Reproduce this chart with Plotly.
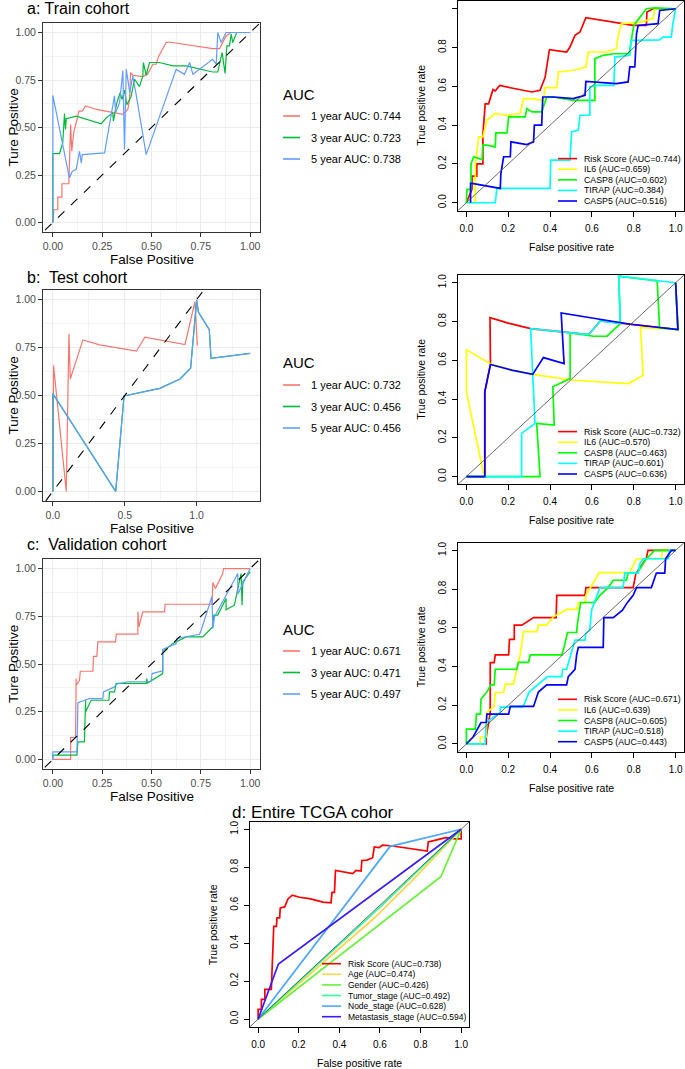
import plotly.graph_objects as go

W, H = 685, 1069
FONT = "Liberation Sans, Arial, sans-serif"

# ---------------- data ----------------
# a: train cohort, time-dependent ROC (left)
TRAIN_1Y_X = [0.0, 0.005, 0.025, 0.025, 0.046, 0.046, 0.081, 0.084, 0.09, 0.096, 0.105, 0.118, 0.132, 0.149, 0.166, 0.22, 0.304, 0.355, 0.38, 0.389, 0.394, 0.405, 0.456, 0.48, 0.507, 0.524, 0.537, 0.557, 0.574, 0.59, 0.81, 0.845, 0.86, 0.878, 0.904, 1.0]
TRAIN_1Y_Y = [0.0, 0.067, 0.067, 0.134, 0.134, 0.204, 0.204, 0.375, 0.516, 0.375, 0.47, 0.525, 0.586, 0.586, 0.613, 0.595, 0.577, 0.569, 0.595, 0.648, 0.789, 0.775, 0.768, 0.78, 0.833, 0.833, 0.877, 0.912, 0.947, 0.95, 0.915, 0.915, 0.947, 0.982, 1.0, 1.0]
TRAIN_3Y_X = [0.0, 0.0, 0.034, 0.05, 0.059, 0.064, 0.068, 0.118, 0.245, 0.27, 0.304, 0.307, 0.324, 0.341, 0.351, 0.363, 0.375, 0.397, 0.414, 0.439, 0.456, 0.459, 0.473, 0.49, 0.54, 0.608, 0.676, 0.81, 0.836, 0.858, 0.873, 0.882, 0.895, 0.904, 0.912, 0.932, 1.0]
TRAIN_3Y_Y = [0.0, 0.363, 0.363, 0.419, 0.574, 0.49, 0.546, 0.56, 0.52, 0.55, 0.577, 0.533, 0.63, 0.683, 0.648, 0.697, 0.62, 0.665, 0.754, 0.715, 0.771, 0.842, 0.775, 0.842, 0.842, 0.824, 0.824, 0.792, 0.792, 0.894, 0.785, 0.93, 0.93, 0.991, 0.947, 1.0, 1.0]
TRAIN_5Y_X = [0.0, 0.0, 0.084, 0.098, 0.118, 0.135, 0.144, 0.149, 0.262, 0.3125, 0.318, 0.338, 0.355, 0.363, 0.372, 0.39, 0.405, 0.422, 0.473, 0.625, 0.667, 0.693, 0.71, 0.81, 0.828, 0.836, 0.853, 0.878, 1.0]
TRAIN_5Y_Y = [0.0, 0.669, 0.234, 0.27, 0.278, 0.375, 0.313, 0.357, 0.366, 0.666, 0.577, 0.63, 0.8, 0.384, 0.806, 0.683, 0.771, 0.674, 0.357, 0.806, 0.78, 0.842, 0.78, 0.859, 0.833, 1.0, 0.947, 1.0, 1.0]
TRAIN_AUC = ["0.744", "0.723", "0.738"]

# a: train cohort, marker ROC (right)
TR_RISK_X = [0.0, 0.027, 0.027, 0.05, 0.05, 0.079, 0.079, 0.09, 0.106, 0.127, 0.138, 0.159, 0.21, 0.313, 0.352, 0.376, 0.397, 0.479, 0.495, 0.519, 0.543, 0.571, 0.797, 0.86, 0.863, 0.892, 1.0]
TR_RISK_Y = [0.0, 0.07, 0.137, 0.137, 0.2, 0.2, 0.35, 0.51, 0.51, 0.583, 0.576, 0.605, 0.593, 0.571, 0.58, 0.645, 0.789, 0.777, 0.803, 0.863, 0.88, 0.954, 0.914, 0.914, 0.983, 1.0, 1.0]
TR_IL6_X = [0.0, 0.043, 0.043, 0.059, 0.079, 0.098, 0.138, 0.194, 0.257, 0.273, 0.305, 0.368, 0.376, 0.432, 0.44, 0.511, 0.571, 0.583, 0.67, 0.717, 0.725, 0.741, 0.829, 0.892, 0.9, 1.0]
TR_IL6_Y = [0.0, 0.0, 0.2, 0.34, 0.34, 0.425, 0.46, 0.451, 0.46, 0.537, 0.537, 0.528, 0.593, 0.593, 0.674, 0.683, 0.7, 0.777, 0.777, 0.794, 0.858, 0.923, 0.93, 0.949, 1.0, 1.0]
TR_CASP8_X = [0.0, 0.003, 0.022, 0.022, 0.035, 0.075, 0.079, 0.098, 0.138, 0.141, 0.194, 0.202, 0.281, 0.289, 0.313, 0.36, 0.384, 0.416, 0.511, 0.614, 0.614, 0.654, 0.702, 0.778, 0.8, 0.86, 0.9, 1.0]
TR_CASP8_Y = [0.0, 0.069, 0.069, 0.2, 0.237, 0.223, 0.297, 0.297, 0.288, 0.36, 0.36, 0.443, 0.443, 0.485, 0.468, 0.468, 0.545, 0.545, 0.528, 0.528, 0.743, 0.76, 0.768, 0.768, 0.914, 1.0, 1.005, 1.0]
TR_TIRAP_X = [0.0, 0.138, 0.146, 0.4, 0.403, 0.495, 0.503, 0.535, 0.543, 0.59, 0.59, 0.622, 0.705, 0.71, 0.781, 0.789, 0.813, 0.924, 0.94, 0.979, 0.987, 1.0]
TR_TIRAP_Y = [0.0, 0.0, 0.074, 0.074, 0.22, 0.22, 0.365, 0.374, 0.451, 0.451, 0.597, 0.605, 0.605, 0.751, 0.76, 0.837, 0.837, 0.84, 0.854, 0.854, 0.923, 1.0]
TR_CASP5_X = [0.02, 0.02, 0.027, 0.146, 0.162, 0.165, 0.178, 0.21, 0.213, 0.289, 0.321, 0.325, 0.36, 0.365, 0.416, 0.511, 0.567, 0.571, 0.717, 0.773, 0.781, 0.805, 0.813, 0.821, 0.916, 0.924, 1.0]
TR_CASP5_Y = [0.0, 0.1, 0.1, 0.074, 0.074, 0.151, 0.237, 0.237, 0.314, 0.3, 0.314, 0.4, 0.4, 0.545, 0.545, 0.537, 0.554, 0.626, 0.614, 0.623, 0.7, 0.7, 0.871, 0.914, 0.923, 0.991, 1.0]
TR_AUC = ["0.744", "0.659", "0.602", "0.384", "0.516"]

# b: test cohort (left)
TEST_1Y_X = [0.0, 0.005, 0.093, 0.112, 0.121, 0.209, 0.326, 0.581, 0.64, 0.919, 0.988, 1.005]
TEST_1Y_Y = [0.0, 0.656, 0.0, 0.822, 0.586, 0.79, 0.764, 0.731, 0.804, 0.766, 0.988, 0.76]
TEST_3Y_X = [0.0, 0.0, 0.437, 0.495, 0.744, 0.884, 0.958, 1.0, 1.012, 1.088, 1.1, 1.372]
TEST_3Y_Y = [0.0, 0.51, 0.0, 0.498, 0.537, 0.586, 0.642, 0.997, 0.935, 0.843, 0.694, 0.72]
TEST_5Y_X = [0.0, 0.0, 0.437, 0.495, 0.744, 0.884, 0.958, 1.0, 1.012, 1.088, 1.1, 1.372]
TEST_5Y_Y = [0.0, 0.51, 0.0, 0.498, 0.537, 0.586, 0.642, 0.997, 0.935, 0.843, 0.694, 0.72]
TEST_AUC = ["0.732", "0.456", "0.456"]

# b: test cohort (right)
TE_RISK_X = [0.0, 0.088, 0.088, 0.115, 0.113, 0.2, 0.307, 0.584, 0.64, 0.784, 1.011, 1.0]
TE_RISK_Y = [0.0, 0.0, 0.437, 0.578, 0.82, 0.792, 0.763, 0.732, 0.803, 0.786, 0.758, 1.0]
TE_IL6_X = [0.088, 0.08, 0.0, 0.0, 0.112, 0.216, 0.317, 0.416, 0.512, 0.776, 0.845, 0.832, 1.011, 1.0]
TE_IL6_Y = [0.0, 0.026, 0.437, 0.655, 0.583, 0.549, 0.527, 0.511, 0.497, 0.48, 0.523, 0.77, 0.758, 1.0]
TE_CASP8_X = [0.0, 0.352, 0.336, 0.42, 0.413, 0.496, 0.496, 0.608, 0.672, 0.736, 0.728, 0.912, 0.923, 1.011, 1.0]
TE_CASP8_Y = [0.0, 0.0, 0.274, 0.266, 0.463, 0.506, 0.741, 0.724, 0.724, 0.789, 1.034, 1.01, 0.768, 0.758, 1.0]
TE_TIRAP_X = [0.0, 0.264, 0.264, 0.328, 0.307, 0.584, 0.64, 0.736, 0.728, 1.0]
TE_TIRAP_Y = [0.0, 0.0, 0.223, 0.274, 0.763, 0.732, 0.803, 0.789, 1.034, 1.0]
TE_CASP5_X = [0.0, 0.088, 0.088, 0.115, 0.216, 0.317, 0.368, 0.467, 0.453, 0.784, 1.011, 1.0]
TE_CASP5_Y = [0.0, 0.0, 0.437, 0.578, 0.549, 0.527, 0.614, 0.583, 0.844, 0.786, 0.758, 1.0]
TE_AUC = ["0.732", "0.570", "0.463", "0.601", "0.636"]

# c: validation cohort (left)
VALID_1Y_X = [0.0, 0.09, 0.09, 0.115, 0.118, 0.118, 0.135, 0.139, 0.203, 0.206, 0.223, 0.228, 0.318, 0.321, 0.431, 0.431, 0.436, 0.456, 0.566, 0.569, 0.807, 0.811, 0.824, 0.861, 0.865, 1.0]
VALID_1Y_Y = [0.0, 0.0, 0.115, 0.115, 0.424, 0.389, 0.415, 0.462, 0.462, 0.54, 0.54, 0.616, 0.616, 0.656, 0.656, 0.773, 0.695, 0.773, 0.773, 0.813, 0.813, 0.927, 0.895, 0.974, 1.0, 1.0]
VALID_3Y_X = [0.0, 0.0, 0.122, 0.127, 0.16, 0.166, 0.166, 0.194, 0.284, 0.287, 0.3125, 0.321, 0.473, 0.476, 0.48, 0.557, 0.557, 0.608, 0.642, 0.676, 0.76, 0.811, 0.816, 0.836, 0.878, 0.878, 0.887, 0.92, 0.954, 0.959, 0.963, 1.0]
VALID_3Y_Y = [0.0, 0.023, 0.023, 0.092, 0.092, 0.31, 0.25, 0.31, 0.31, 0.354, 0.354, 0.398, 0.398, 0.424, 0.4, 0.45, 0.564, 0.607, 0.625, 0.642, 0.642, 0.695, 0.756, 0.756, 0.843, 0.782, 0.79, 0.808, 0.974, 0.808, 0.93, 0.983]
VALID_5Y_X = [0.0, 0.0, 0.122, 0.127, 0.186, 0.253, 0.257, 0.3125, 0.321, 0.38, 0.498, 0.503, 0.557, 0.557, 0.625, 0.628, 0.743, 0.752, 0.806, 0.811, 0.819, 0.9375, 0.9375, 1.0]
VALID_5Y_Y = [0.0, 0.04, 0.04, 0.297, 0.319, 0.319, 0.354, 0.38, 0.394, 0.407, 0.407, 0.45, 0.464, 0.576, 0.607, 0.634, 0.656, 0.677, 0.852, 0.686, 0.747, 0.974, 0.866, 1.0]
VALID_AUC = ["0.671", "0.471", "0.497"]

# c: validation cohort (right)
VA_RISK_X = [0.0, 0.095, 0.095, 0.114, 0.114, 0.133, 0.138, 0.202, 0.206, 0.229, 0.229, 0.265, 0.321, 0.429, 0.432, 0.567, 0.571, 0.797, 0.81, 0.86, 0.868, 1.0]
VA_RISK_Y = [0.0, 0.0, 0.036, 0.163, 0.42, 0.42, 0.46, 0.46, 0.54, 0.54, 0.614, 0.614, 0.653, 0.653, 0.768, 0.768, 0.808, 0.808, 0.88, 0.96, 1.0, 1.0]
VA_IL6_X = [0.0, 0.067, 0.067, 0.095, 0.098, 0.133, 0.138, 0.178, 0.186, 0.225, 0.233, 0.257, 0.273, 0.337, 0.344, 0.384, 0.416, 0.479, 0.527, 0.535, 0.567, 0.571, 0.635, 0.78, 0.813, 0.932, 0.937, 1.0]
VA_IL6_Y = [0.0, 0.0, 0.036, 0.036, 0.163, 0.194, 0.266, 0.266, 0.309, 0.309, 0.348, 0.46, 0.58, 0.58, 0.614, 0.614, 0.657, 0.695, 0.695, 0.729, 0.729, 0.768, 0.885, 0.885, 0.957, 0.957, 1.0, 1.0]
VA_CASP8_X = [0.0, 0.0, 0.043, 0.048, 0.067, 0.07, 0.098, 0.117, 0.133, 0.138, 0.241, 0.249, 0.297, 0.305, 0.456, 0.467, 0.483, 0.527, 0.53, 0.546, 0.614, 0.638, 0.678, 0.702, 0.765, 0.773, 0.816, 0.86, 0.9, 1.0]
VA_CASP8_Y = [0.0, 0.077, 0.077, 0.154, 0.154, 0.232, 0.268, 0.305, 0.305, 0.386, 0.386, 0.422, 0.422, 0.46, 0.46, 0.499, 0.576, 0.576, 0.614, 0.731, 0.731, 0.768, 0.808, 0.846, 0.846, 0.883, 0.883, 0.957, 1.0, 1.0]
VA_TIRAP_X = [0.0, 0.09, 0.094, 0.162, 0.162, 0.27, 0.3, 0.387, 0.456, 0.46, 0.479, 0.519, 0.567, 0.571, 0.59, 0.598, 0.638, 0.749, 0.757, 0.821, 0.829, 0.844, 0.965, 0.971, 1.0]
VA_TIRAP_Y = [0.0, 0.0, 0.111, 0.163, 0.19, 0.19, 0.268, 0.348, 0.348, 0.386, 0.386, 0.537, 0.537, 0.571, 0.588, 0.691, 0.808, 0.808, 0.883, 0.883, 0.931, 0.957, 0.957, 1.0, 1.0]
VA_CASP5_X = [0.0, 0.032, 0.07, 0.095, 0.098, 0.202, 0.21, 0.321, 0.344, 0.384, 0.479, 0.487, 0.519, 0.527, 0.535, 0.654, 0.657, 0.702, 0.746, 0.768, 0.797, 0.813, 0.884, 0.908, 0.948, 0.952, 0.979, 1.0]
VA_CASP5_Y = [0.0, 0.036, 0.111, 0.111, 0.154, 0.154, 0.194, 0.194, 0.268, 0.305, 0.305, 0.348, 0.386, 0.46, 0.499, 0.499, 0.653, 0.653, 0.691, 0.729, 0.768, 0.808, 0.808, 0.883, 0.883, 0.957, 1.0, 1.0]
VA_AUC = ["0.671", "0.639", "0.605", "0.518", "0.443"]

# d: entire TCGA cohort
TC_RISK_X = [0.0, 0.0, 0.016, 0.016, 0.033, 0.033, 0.065, 0.07, 0.077, 0.09, 0.093, 0.106, 0.109, 0.131, 0.147, 0.168, 0.204, 0.253, 0.319, 0.359, 0.364, 0.376, 0.381, 0.466, 0.482, 0.507, 0.511, 0.536, 0.564, 0.572, 0.596, 0.613, 0.662, 0.833, 0.838, 0.89, 0.923, 0.97, 1.0, 1.0]
TC_RISK_Y = [0.0, 0.051, 0.051, 0.104, 0.104, 0.157, 0.157, 0.295, 0.489, 0.489, 0.533, 0.533, 0.586, 0.591, 0.633, 0.653, 0.642, 0.635, 0.616, 0.612, 0.668, 0.668, 0.783, 0.767, 0.783, 0.78, 0.836, 0.838, 0.85, 0.907, 0.903, 0.917, 0.912, 0.885, 0.933, 0.947, 0.956, 0.95, 0.95, 1.0]
TC_AGE_X = [0.0, 0.57, 0.75, 1.0]
TC_AGE_Y = [0.0, 0.53, 0.72, 1.0]
TC_GENDER_X = [0.0, 0.9, 1.0]
TC_GENDER_Y = [0.0, 0.75, 1.0]
TC_TUMOR_X = [0.0, 0.6, 1.0]
TC_TUMOR_Y = [0.0, 0.59, 1.0]
TC_NODE_X = [0.0, 0.65, 1.0]
TC_NODE_Y = [0.0, 0.91, 1.0]
TC_META_X = [0.0, 0.1, 1.0]
TC_META_Y = [0.0, 0.29, 1.0]
TC_AUC = ["0.738", "0.474", "0.426", "0.492", "0.628", "0.594"]

YEARS = ["1 year", "3 year", "5 year"]
MARKERS = ["Risk Score", "IL6", "CASP8", "TIRAP", "CASP5"]
CLINICAL = ["Risk Score", "Age", "Gender", "Tumor_stage", "Node_stage", "Metastasis_stage"]
DIAG = [-0.5, 2.0]  # y = x reference line, clipped by the axes

GG_COLORS = ["#F8766D", "#00BA38", "#619CFF"]
MK_COLORS = ["#FF0000", "#FFFF00", "#00FF00", "#00FFFF", "#0000FF"]
CL_COLORS = ["#FF0000", "#FFD54A", "#66F233", "#33FF99", "#4DA6FF", "#3A1AFF"]


def px(x):
    return x / W


def py(y):
    return 1 - y / H


fig = go.Figure()
annotations = []
shapes = []


def ax_name(i, kind):
    return kind + ("axis" if i == 1 else "axis%d" % i)


def ref(i, kind):
    return kind + ("" if i == 1 else str(i))


def add_line(i, x, y, color, width, dash=None):
    fig.add_trace(go.Scatter(
        x=x, y=y, mode="lines", xaxis=ref(i, "x"), yaxis=ref(i, "y"),
        line=dict(color=color, width=width, dash=dash),
        showlegend=False, hoverinfo="skip"
    ))


def text(x, y, s, size, xanchor="left", angle=0, color="black"):
    annotations.append(dict(
        x=px(x), y=py(y), xref="paper", yref="paper", text=s, showarrow=False,
        xanchor=xanchor, yanchor="middle", textangle=angle,
        font=dict(family=FONT, size=size, color=color)
    ))


def legend_line(x0, x1, y, color, width):
    shapes.append(dict(type="line", xref="paper", yref="paper",
                       x0=px(x0), x1=px(x1), y0=py(y), y1=py(y),
                       line=dict(color=color, width=width)))


# ---------------- left panels (ggplot style) ----------------
def gg_panel(i, top, bottom, xs, ys, aucs, title, xr, xt, xtt, xminor, title_y, leg_y):
    for x, y, c in zip(xs, ys, GG_COLORS):
        add_line(i, x, y, c, 1.2)
    add_line(i, DIAG, DIAG, "black", 1.1, "dash")
    common = dict(
        showline=True, mirror=True, linecolor="#333333", linewidth=1.1,
        ticks="outside", ticklen=4, tickwidth=1, tickcolor="#333333",
        tickfont=dict(family=FONT, size=10.5, color="#4D4D4D"),
        showgrid=True, gridcolor="#EBEBEB", gridwidth=1.1, zeroline=False,
        tickmode="array",
    )
    fig.layout[ax_name(i, "x")] = dict(
        domain=[px(43), px(260)], range=xr, anchor=ref(i, "y"),
        tickvals=xt, ticktext=xtt,
        minor=dict(tickvals=xminor, showgrid=True, gridcolor="#F3F3F3", gridwidth=0.6, ticks=""),
        **common)
    fig.layout[ax_name(i, "y")] = dict(
        domain=[py(bottom), py(top)], range=[-0.05, 1.05], anchor=ref(i, "x"),
        tickvals=[0, 0.25, 0.5, 0.75, 1.0], ticktext=["0.00", "0.25", "0.50", "0.75", "1.00"],
        minor=dict(tickvals=[0.125, 0.375, 0.625, 0.875], showgrid=True, gridcolor="#F3F3F3", gridwidth=0.6, ticks=""),
        **common)
    text(25, title_y, title, 16)
    text(152, bottom + 27, "False Positive", 13.5, "center")
    text(13, (top + bottom) / 2, "Ture Positive", 13.5, "center", -90)
    text(281, leg_y, "AUC", 15)
    for k, (lab, auc, c) in enumerate(zip(YEARS, aucs, GG_COLORS)):
        yy = leg_y + 22 + 21.5 * k
        legend_line(283, 300, yy, c, 1.6)
        text(309, yy, "%s AUC: %s" % (lab, auc), 11)


Q_TICKS = [0, 0.25, 0.5, 0.75, 1.0]
Q_TEXT = ["0.00", "0.25", "0.50", "0.75", "1.00"]
Q_MINOR = [0.125, 0.375, 0.625, 0.875]

gg_panel(1, 23, 232,
         [TRAIN_1Y_X, TRAIN_3Y_X, TRAIN_5Y_X], [TRAIN_1Y_Y, TRAIN_3Y_Y, TRAIN_5Y_Y],
         TRAIN_AUC, "a: Train cohort", [-0.05, 1.05], Q_TICKS, Q_TEXT, Q_MINOR, 8, 94)

test_max = max(TEST_5Y_X)
gg_panel(3, 290, 501,
         [TEST_1Y_X, TEST_3Y_X, TEST_5Y_X], [TEST_1Y_Y, TEST_3Y_Y, TEST_5Y_Y],
         TEST_AUC, "b:  Test cohort", [-0.05 * test_max, 1.05 * test_max],
         [0, 0.5, 1.0], ["0.0", "0.5", "1.0"], [0.25, 0.75, 1.25], 277, 363)

gg_panel(5, 559, 769,
         [VALID_1Y_X, VALID_3Y_X, VALID_5Y_X], [VALID_1Y_Y, VALID_3Y_Y, VALID_5Y_Y],
         VALID_AUC, "c:  Validation cohort", [-0.05, 1.05], Q_TICKS, Q_TEXT, Q_MINOR, 544, 629)


# ---------------- right panels (base R style) ----------------
def base_panel(i, left, right, top, bottom, xs, ys, names, aucs, colors,
               leg_x0, leg_x1, leg_tx, leg_last, leg_size=8.8):
    for x, y, c in zip(xs, ys, colors):
        add_line(i, x, y, c, 1.7)
    add_line(i, DIAG, DIAG, "#444444", 0.8)
    common = dict(
        range=[-0.04, 1.04], showline=True, mirror=True, linecolor="black", linewidth=1,
        ticks="outside", ticklen=5, tickwidth=1, tickcolor="black",
        tickfont=dict(family=FONT, size=10, color="black"),
        showgrid=False, zeroline=False, tickmode="array",
        tickvals=[0, 0.2, 0.4, 0.6, 0.8, 1.0],
        ticktext=["0.0", "0.2", "0.4", "0.6", "0.8", "1.0"],
    )
    fig.layout[ax_name(i, "x")] = dict(domain=[px(left), px(right)], anchor=ref(i, "y"),
                                       ticklabelstandoff=3, **common)
    fig.layout[ax_name(i, "y")] = dict(domain=[py(bottom), py(top)], anchor=ref(i, "x"),
                                       tickangle=-90, ticklabelstandoff=2, **common)
    text((left + right) / 2, bottom + 36, "False positive rate", 10.5, "center")
    text(left - 37, (top + bottom) / 2, "True positive rate", 10.5, "center", -90)
    n = len(names)
    for k, (lab, auc, c) in enumerate(zip(names, aucs, colors)):
        yy = leg_last - 10.6 * (n - 1 - k)
        legend_line(leg_x0, leg_x1, yy, c, 1.6)
        text(leg_tx, yy, "%s (AUC=%s)" % (lab, auc), leg_size)


base_panel(2, 458, 684, 1, 210.5,
           [TR_RISK_X, TR_IL6_X, TR_CASP8_X, TR_TIRAP_X, TR_CASP5_X],
           [TR_RISK_Y, TR_IL6_Y, TR_CASP8_Y, TR_TIRAP_Y, TR_CASP5_Y],
           MARKERS, TR_AUC, MK_COLORS, 558, 577, 582, 201)

base_panel(4, 458, 684, 275, 484.3,
           [TE_RISK_X, TE_IL6_X, TE_CASP8_X, TE_TIRAP_X, TE_CASP5_X],
           [TE_RISK_Y, TE_IL6_Y, TE_CASP8_Y, TE_TIRAP_Y, TE_CASP5_Y],
           MARKERS, TE_AUC, MK_COLORS, 558, 577, 582, 474)

base_panel(6, 458, 684, 542.7, 751.7,
           [VA_RISK_X, VA_IL6_X, VA_CASP8_X, VA_TIRAP_X, VA_CASP5_X],
           [VA_RISK_Y, VA_IL6_Y, VA_CASP8_Y, VA_TIRAP_Y, VA_CASP5_Y],
           MARKERS, VA_AUC, MK_COLORS, 558, 577, 582, 741.7)

base_panel(7, 250, 469.3, 821.7, 1026.7,
           [TC_RISK_X, TC_AGE_X, TC_GENDER_X, TC_TUMOR_X, TC_NODE_X, TC_META_X],
           [TC_RISK_Y, TC_AGE_Y, TC_GENDER_Y, TC_TUMOR_Y, TC_NODE_Y, TC_META_Y],
           CLINICAL, TC_AUC, CL_COLORS, 322, 341, 346, 1016.7, leg_size=8.5)
text(230, 812, "d: Entire TCGA cohor", 17)

fig.update_layout(
    width=W, height=H, margin=dict(l=0, r=0, t=0, b=0),
    paper_bgcolor="white", plot_bgcolor="white",
    showlegend=False, annotations=annotations, shapes=shapes,
    font=dict(family=FONT),
)

# the default page keeps an 8px body margin; drop it so the figure fills the window
fig.write_html("out.html", config={"displayModeBar": False},
               post_script="document.body.style.margin='0';")
